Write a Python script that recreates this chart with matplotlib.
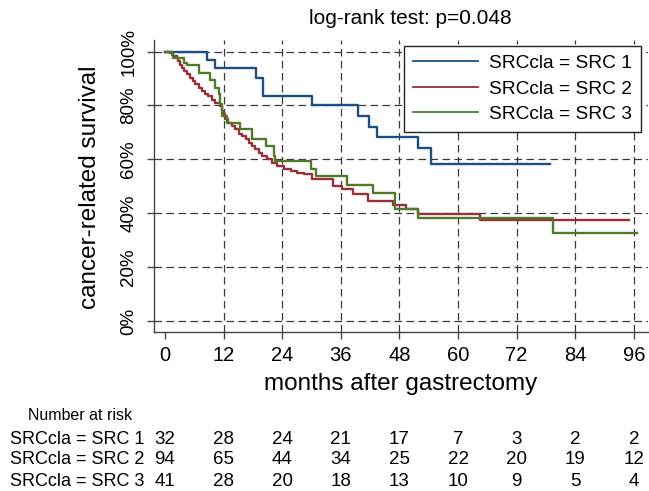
import matplotlib
matplotlib.use("Agg")
import matplotlib.pyplot as plt
import matplotlib.transforms as mtransforms

plt.rcParams['font.family'] = ['Liberation Sans', 'DejaVu Sans']

# ---- data ----
title = "log-rank test: p=0.048"
group_labels = ["SRCcla = SRC 1", "SRCcla = SRC 2", "SRCcla = SRC 3"]

blue_t = [0, 8.6, 10.3, 18.7, 20.0, 30.2, 39.5, 41.8, 43.4, 51.8, 54.5, 78.8]
blue_s = [100, 96.9, 93.8, 90.3, 83.7, 80.0, 76.2, 72.1, 68.4, 64.3, 58.4, 58.4]

red_t = [0, 1.0, 1.7, 2.4, 2.7, 3.1, 3.4, 3.8, 4.5, 5.1, 5.8, 6.2, 6.9, 7.5, 8.2,
         8.9, 9.6, 10.3, 11.3, 11.7, 12.0, 12.3, 13.0, 13.7, 14.4, 15.1, 15.8,
         16.5, 17.2, 17.8, 18.5, 19.2, 19.9, 20.9, 21.9, 23.0, 24.3, 25.7, 27.1,
         28.5, 30.2, 34.3, 36.3, 38.4, 41.5, 46.6, 49.4, 51.8, 64.4, 95.0]
red_s = [100, 99.5, 98.3, 97.7, 96.4, 95.2, 94.0, 92.7, 91.5, 90.2, 89.0, 87.8,
         86.5, 85.3, 84.1, 83.5, 82.2, 81.0, 79.8, 77.9, 76.7, 74.8, 73.6, 72.3,
         71.1, 69.3, 68.6, 67.4, 66.2, 64.9, 63.7, 62.5, 61.2, 60.0, 58.8, 57.5,
         56.3, 55.7, 55.1, 54.4, 52.6, 50.1, 48.9, 47.0, 44.6, 43.0, 41.4, 39.9,
         37.5, 37.5]

green_t = [0, 1.4, 1.7, 3.8, 4.5, 6.9, 9.3, 10.3, 11.0, 11.3, 11.7, 12.7, 15.4,
           17.8, 20.6, 22.3, 22.6, 29.8, 31.0, 37.3, 42.5, 47.1, 51.8, 79.5, 96.7]
green_s = [100, 98.9, 97.7, 95.8, 95.2, 92.1, 89.6, 86.5, 84.1, 80.4, 76.1, 73.6,
           71.1, 67.4, 64.9, 61.2, 59.4, 56.5, 53.8, 50.5, 47.4, 41.5, 38.2, 32.8,
           32.8]

x_ticks = [0, 12, 24, 36, 48, 60, 72, 84, 96]
y_ticks = [0, 20, 40, 60, 80, 100]
y_ticklabels = ["0%", "20%", "40%", "60%", "80%", "100%"]

risk_src1 = [32, 28, 24, 21, 17, 7, 3, 2, 2]
risk_src2 = [94, 65, 44, 34, 25, 22, 20, 19, 12]
risk_src3 = [41, 28, 20, 18, 13, 10, 9, 5, 4]

colors = ["#1f4f82", "#9a2f38", "#4f7a2a"]

# ---- figure ----
W, H = 649, 491
fig = plt.figure(figsize=(W / 100, H / 100), dpi=100)
ax = fig.add_axes([154 / W, 1 - 332 / H, (648 - 154) / W, (332 - 40) / H])
ax.set_xlim(-2.25, 98.9)
ax.set_ylim(-4.08, 104.3)

gridc = "#3a3a3a"
dash = (0, (6, 3.6))
for y in y_ticks:
    ax.axhline(y, color=gridc, lw=0.9, ls=dash, zorder=1)
for x in x_ticks[1:]:
    ax.axvline(x, color=gridc, lw=0.9, ls=dash, zorder=1)

for t, s, c, lab in [(blue_t, blue_s, colors[0], group_labels[0]),
                     (red_t, red_s, colors[1], group_labels[1]),
                     (green_t, green_s, colors[2], group_labels[2])]:
    ax.step(t, s, where='post', color=c, lw=1.7, label=lab, zorder=3)

for sp in ['top', 'right']:
    ax.spines[sp].set_visible(False)
for sp in ['left', 'bottom']:
    ax.spines[sp].set_color("#444444")
    ax.spines[sp].set_linewidth(1.0)

ax.set_xticks(x_ticks)
ax.set_xticklabels([str(v) for v in x_ticks], fontsize=14.5)
ax.set_yticks(y_ticks)
ax.set_yticklabels(y_ticklabels, fontsize=13.5, rotation=90, va='center')
ax.tick_params(axis='both', direction='out', length=5, width=1.0, color="#444444")
ax.tick_params(axis='x', pad=5)
ax.tick_params(axis='y', pad=7)

leg = ax.legend(loc='upper right', bbox_to_anchor=(641 / W, 1 - 46 / H),
                bbox_transform=fig.transFigure, borderaxespad=0,
                fontsize=13.8, frameon=True, fancybox=False, framealpha=1,
                edgecolor="#222222", handlelength=3.4, handletextpad=0.6,
                labelspacing=0.42, borderpad=0.45)
leg.get_frame().set_linewidth(1.0)
for line in leg.get_lines():
    line.set_linewidth(1.3)

fig.text(410 / W, 1 - 18 / H, title, fontsize=15, ha='center', va='center')
fig.text(90 / W, 1 - 187 / H, "cancer-related survival", fontsize=17.5,
         rotation=90, ha='center', va='center')
fig.text(401 / W, 1 - 384 / H, "months after gastrectomy", fontsize=17.5,
         ha='center', va='center')

# ---- risk table ----
fig.text(28 / W, 1 - 415 / H, "Number at risk", fontsize=11.5, ha='left', va='center')
trans = mtransforms.blended_transform_factory(ax.transData, fig.transFigure)
rows = [(group_labels[0], risk_src1, 439), (group_labels[1], risk_src2, 460),
        (group_labels[2], risk_src3, 481)]
for lab, vals, ypx in rows:
    fig.text(10 / W, 1 - ypx / H, lab, fontsize=13, ha='left', va='center')
    for x, v in zip(x_ticks, vals):
        ax.text(x, 1 - ypx / H, str(v), transform=trans, fontsize=13.5,
                ha='center', va='center', clip_on=False)

fig.savefig("out.png", dpi=100)
